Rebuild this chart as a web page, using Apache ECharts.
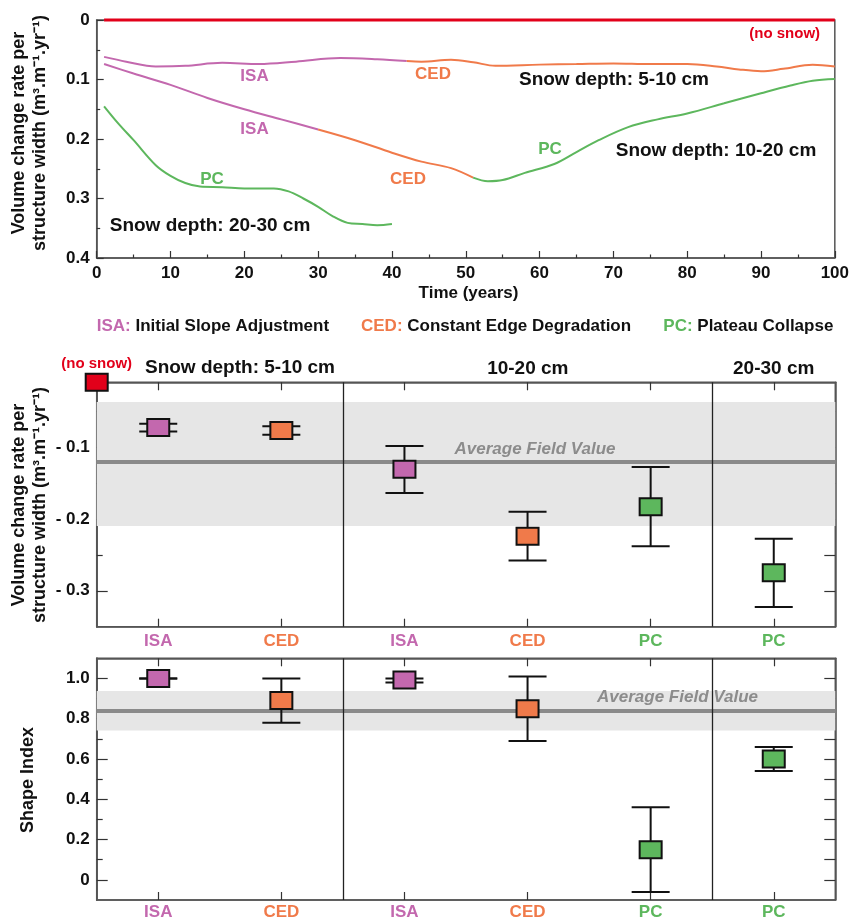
<!DOCTYPE html>
<html><head><meta charset="utf-8">
<script src="https://cdn.jsdelivr.net/npm/echarts@6/dist/echarts.min.js"></script>
<style>html,body{margin:0;padding:0;background:#fff}#c{width:852px;height:921px}</style>
</head><body><div id="c"></div>
<script>
// ===== Top panel: volume change rate per structure width vs time =====
const noSnowT = [1, 100];
const noSnowV = [0, 0];
// Snow depth 5-10 cm
const d510IsaT = [1, 4, 8, 12, 17, 22, 27, 33, 38, 42];
const d510IsaV = [0.062, 0.070, 0.078, 0.077, 0.072, 0.074, 0.070, 0.064, 0.066, 0.069];
const d510CedT = [42, 44, 48, 51, 54, 60, 65, 70, 75, 80, 84, 87, 90, 93, 97, 100];
const d510CedV = [0.069, 0.070, 0.067, 0.071, 0.077, 0.075, 0.074, 0.073, 0.074, 0.074, 0.078, 0.083, 0.086, 0.082, 0.075, 0.078];
// Snow depth 10-20 cm
const d1020IsaT = [1, 5, 10, 15, 20, 25, 30];
const d1020IsaV = [0.074, 0.090, 0.109, 0.131, 0.150, 0.167, 0.184];
const d1020CedT = [30, 35, 40, 44, 48, 51];
const d1020CedV = [0.184, 0.202, 0.223, 0.238, 0.249, 0.265];
const d1020PcT = [51, 53, 55, 58, 62, 65, 68, 72, 76, 80, 85, 90, 94, 97, 100];
const d1020PcV = [0.265, 0.271, 0.269, 0.257, 0.242, 0.222, 0.202, 0.180, 0.167, 0.157, 0.140, 0.123, 0.110, 0.102, 0.099];
// Snow depth 20-30 cm
const d2030PcT = [1, 3, 5, 8, 10, 12, 14, 17, 20, 24, 26, 28, 30, 32, 34, 36, 38, 40];
const d2030PcV = [0.145, 0.175, 0.202, 0.244, 0.262, 0.274, 0.280, 0.281, 0.283, 0.283, 0.288, 0.300, 0.314, 0.330, 0.341, 0.343, 0.345, 0.343];

// ===== Middle & bottom panels =====
const catNames = ['ISA', 'CED', 'ISA', 'CED', 'PC', 'PC'];
const groupBounds = [2, 5];
const volMid  = [-0.073, -0.077, -0.131, -0.224, -0.183, -0.275];
const volLow  = [-0.0785, -0.0828, -0.164, -0.258, -0.238, -0.3226];
const volHigh = [-0.0676, -0.0713, -0.0986, -0.190, -0.128, -0.2275];
const noSnowPos = 0;
const noSnowVol = -0.01;
const volBand = [-0.21, -0.0375];
const volAvg = -0.124;
const shapeMid  = [1.0, 0.89, 0.992, 0.85, 0.15, 0.60];
const shapeLow  = [1.0, 0.78, 0.98, 0.69, -0.06, 0.54];
const shapeHigh = [1.0, 1.0, 1.0, 1.01, 0.36, 0.66];
const shapeBand = [0.742, 0.938];
const shapeAvg = 0.84;

const C = { ISA: '#c368ae', CED: '#f07a4a', PC: '#5db75d', red: '#e2001a' };
const FONT = '"Liberation Sans", Arial, sans-serif';
const FRAME = '#555';

const zip = (a, b) => a.map((x, i) => [x, b[i]]);
const lineS = (t, v, col, extra) => Object.assign({
  type: 'line', xAxisIndex: 0, yAxisIndex: 0, data: zip(t, v), smooth: 0.35,
  showSymbol: false, symbol: 'none', lineStyle: { color: col, width: 2 }, itemStyle: { color: col }, z: 3
}, extra || {});

function errRender(params, api) {
  const i = api.value(0);
  const p = api.coord([i, api.value(1)]);
  const lo = api.coord([i, api.value(2)]);
  const hi = api.coord([i, api.value(3)]);
  const capW = 19, w = 11, h = 8.5;
  const col = C[catNames[i]];
  const st = { stroke: '#111', lineWidth: 2 };
  return { type: 'group', children: [
    { type: 'line', shape: { x1: p[0], y1: lo[1], x2: p[0], y2: hi[1] }, style: st },
    { type: 'line', shape: { x1: p[0] - capW, y1: lo[1], x2: p[0] + capW, y2: lo[1] }, style: st },
    { type: 'line', shape: { x1: p[0] - capW, y1: hi[1], x2: p[0] + capW, y2: hi[1] }, style: st },
    { type: 'rect', shape: { x: p[0] - w, y: p[1] - h, width: 2 * w, height: 2 * h }, style: { fill: col, stroke: '#111', lineWidth: 2 } }
  ]};
}
function squareRender(params, api) {
  const p = api.coord([api.value(0), api.value(1)]);
  return { type: 'rect', shape: { x: p[0] - 11, y: p[1] - 8.5, width: 22, height: 17 }, style: { fill: C.red, stroke: '#111', lineWidth: 2 } };
}

const catRich = {
  ISA: { color: C.ISA, fontWeight: 'bold', fontSize: 17, fontFamily: FONT },
  CED: { color: C.CED, fontWeight: 'bold', fontSize: 17, fontFamily: FONT },
  PC:  { color: C.PC,  fontWeight: 'bold', fontSize: 17, fontFamily: FONT }
};
const labelStyle = { fontWeight: 'bold', fontSize: 17, fontFamily: FONT, color: '#111' };
const axLine = { show: true, onZero: false, lineStyle: { color: FRAME, width: 1.5 } };
const tickLine = { color: '#333', width: 1.2 };

function catAxis(grid, pos, labels, margin) {
  return {
    type: 'category', gridIndex: grid, position: pos, data: catNames, boundaryGap: true,
    axisLine: axLine,
    axisTick: { show: true, inside: true, alignWithLabel: true, length: 8, lineStyle: tickLine },
    axisLabel: labels ? { show: true, margin: margin, interval: 0, formatter: v => '{' + v + '|' + v + '}', rich: catRich } : { show: false },
    splitLine: { show: false }
  };
}
function hiddenX(grid) {
  return { type: 'value', gridIndex: grid, min: 0, max: 6, show: false, position: 'bottom', axisLine: { show: false, onZero: false } };
}
function yAx(grid, pos, min, max, labelVals, tickVals, len, fmt) {
  return {
    type: 'value', gridIndex: grid, position: pos, min: min, max: max,
    axisLine: axLine,
    axisTick: { show: true, inside: true, length: len, customValues: tickVals, lineStyle: tickLine },
    axisLabel: labelVals ? Object.assign({ show: true, margin: 7, customValues: labelVals, formatter: fmt }, labelStyle) : { show: false },
    splitLine: { show: false }
  };
}

const grids = [
  { left: 96.7, top: 20, width: 738.6, height: 238, show: true, borderColor: FRAME, borderWidth: 1.5 },
  { left: 96.7, top: 382.3, width: 738.6, height: 244.4, show: true, borderColor: FRAME, borderWidth: 1.5 },
  { left: 96.7, top: 658.3, width: 738.6, height: 244.4, show: true, borderColor: FRAME, borderWidth: 1.5 }
];

const option = {
  backgroundColor: '#fff',
  animation: false,
  grid: grids,
  xAxis: [
    { type: 'value', gridIndex: 0, position: 'bottom', min: 0, max: 100, interval: 10,
      axisLine: axLine,
      axisTick: { show: true, inside: true, length: 7, lineStyle: tickLine },
      minorTick: { show: true, splitNumber: 2, length: 3.5, lineStyle: tickLine },
      axisLabel: Object.assign({ margin: 7 }, labelStyle),
      splitLine: { show: false } },
    catAxis(1, 'bottom', true, 6),
    catAxis(1, 'top', false),
    hiddenX(1),
    catAxis(2, 'bottom', true, 4),
    catAxis(2, 'top', false),
    hiddenX(2)
  ],
  yAxis: [
    { type: 'value', gridIndex: 0, position: 'left', inverse: true, min: 0, max: 0.4, interval: 0.1,
      axisLine: axLine,
      axisTick: { show: true, inside: true, length: 7, lineStyle: tickLine },
      minorTick: { show: true, splitNumber: 2, length: 3.5, lineStyle: tickLine },
      axisLabel: Object.assign({ margin: 7, formatter: v => v === 0 ? '0' : v.toFixed(1) }, labelStyle),
      splitLine: { show: false } },
    yAx(1, 'left', -0.35, -0.01, [-0.3, -0.2, -0.1], [-0.3, -0.2, -0.1], 11, v => '- ' + (-v).toFixed(1)),
    yAx(1, 'left', -0.35, -0.01, null, [-0.25, -0.15, -0.05], 6),
    yAx(1, 'right', -0.35, -0.01, null, [-0.3, -0.25, -0.2, -0.15, -0.1, -0.05], 11),
    yAx(2, 'left', -0.1, 1.1, [0, 0.2, 0.4, 0.6, 0.8, 1.0], [0, 0.2, 0.4, 0.6, 0.8, 1.0], 11, v => Math.abs(v) < 1e-9 ? '0' : v.toFixed(1)),
    yAx(2, 'left', -0.1, 1.1, null, [0.1, 0.3, 0.5, 0.7, 0.9], 6),
    yAx(2, 'right', -0.1, 1.1, null, [0, 0.1, 0.2, 0.3, 0.4, 0.5, 0.6, 0.7, 0.8, 0.9, 1.0], 11)
  ],
  series: [
    lineS(d510IsaT, d510IsaV, C.ISA),
    lineS(d510CedT, d510CedV, C.CED),
    lineS(d1020IsaT, d1020IsaV, C.ISA),
    lineS(d1020CedT, d1020CedV, C.CED),
    lineS(d1020PcT, d1020PcV, C.PC),
    lineS(d2030PcT, d2030PcV, C.PC),
    lineS(noSnowT, noSnowV, C.red, { smooth: false, clip: false, lineStyle: { color: C.red, width: 3 }, z: 5 }),

    // middle panel: band + average line
    { type: 'scatter', xAxisIndex: 1, yAxisIndex: 1, data: [], z: 1,
      markArea: { silent: true, itemStyle: { color: '#e6e6e6' }, data: [[{ yAxis: volBand[0] }, { yAxis: volBand[1] }]] },
      markLine: { silent: true, symbol: 'none', label: { show: false }, lineStyle: { color: '#8a8a8a', width: 4, type: 'solid' }, data: [{ yAxis: volAvg }], z: 4 } },
    { type: 'scatter', xAxisIndex: 3, yAxisIndex: 1, data: [], z: 2,
      markLine: { silent: true, symbol: 'none', label: { show: false }, lineStyle: { color: '#222', width: 1.3, type: 'solid' }, data: groupBounds.map(b => ({ xAxis: b })) } },
    { type: 'custom', xAxisIndex: 1, yAxisIndex: 1, renderItem: errRender, z: 10,
      encode: { x: 0, y: 1 },
      data: catNames.map((n, i) => [i, volMid[i], volLow[i], volHigh[i]]) },
    { type: 'custom', xAxisIndex: 3, yAxisIndex: 1, renderItem: squareRender, clip: false, z: 10,
      encode: { x: 0, y: 1 }, data: [[noSnowPos, noSnowVol]] },

    // bottom panel
    { type: 'scatter', xAxisIndex: 4, yAxisIndex: 4, data: [], z: 1,
      markArea: { silent: true, itemStyle: { color: '#e6e6e6' }, data: [[{ yAxis: shapeBand[0] }, { yAxis: shapeBand[1] }]] },
      markLine: { silent: true, symbol: 'none', label: { show: false }, lineStyle: { color: '#8a8a8a', width: 4, type: 'solid' }, data: [{ yAxis: shapeAvg }], z: 4 } },
    { type: 'scatter', xAxisIndex: 6, yAxisIndex: 4, data: [], z: 2,
      markLine: { silent: true, symbol: 'none', label: { show: false }, lineStyle: { color: '#222', width: 1.3, type: 'solid' }, data: groupBounds.map(b => ({ xAxis: b })) } },
    { type: 'custom', xAxisIndex: 4, yAxisIndex: 4, renderItem: errRender, z: 10,
      encode: { x: 0, y: 1 },
      data: catNames.map((n, i) => [i, shapeMid[i], shapeLow[i], shapeHigh[i]]) }
  ],
  graphic: []
};

function txt(x, y, text, color, size, extra) {
  return Object.assign({ type: 'text', x: x, y: y, z: 100, silent: true,
    style: Object.assign({ text: text, fill: color, font: 'bold ' + size + 'px ' + FONT, align: 'center', verticalAlign: 'middle' }, (extra && extra.style) || {}) },
    extra && extra.rotation ? { rotation: extra.rotation } : {});
}
const G = option.graphic;
// top panel annotations
G.push(txt(254.5, 76, 'ISA', C.ISA, 17));
G.push(txt(254.5, 129, 'ISA', C.ISA, 17));
G.push(txt(433, 74, 'CED', C.CED, 17));
G.push(txt(408, 179, 'CED', C.CED, 17));
G.push(txt(212, 179, 'PC', C.PC, 17));
G.push(txt(550, 149, 'PC', C.PC, 17));
G.push(txt(614, 79.5, 'Snow depth: 5-10 cm', '#111', 19));
G.push(txt(716, 150.5, 'Snow depth: 10-20 cm', '#111', 19));
G.push(txt(210, 225.7, 'Snow depth: 20-30 cm', '#111', 19));
G.push(txt(784.7, 34, '(no snow)', C.red, 15));
G.push(txt(468.5, 293.5, 'Time (years)', '#111', 17));
// y axis names
G.push(txt(30, 133, 'Volume change rate per\nstructure width (m³.m⁻¹.yr⁻¹)', '#111', 18, { rotation: Math.PI / 2, style: { lineHeight: 21 } }));
G.push(txt(30, 505, 'Volume change rate per\nstructure width (m³.m⁻¹.yr⁻¹)', '#111', 18, { rotation: Math.PI / 2, style: { lineHeight: 21 } }));
G.push(txt(28, 780, 'Shape Index', '#111', 18, { rotation: Math.PI / 2 }));
// legend row
function legendItem(x, key, desc) {
  return { type: 'text', x: x, y: 326, z: 100, silent: true,
    style: { text: '{k|' + key + ':}{d| ' + desc + '}', align: 'left', verticalAlign: 'middle',
      font: 'bold 17px ' + FONT,
      rich: { k: { fill: C[key], font: 'bold 17px ' + FONT, fontWeight: 'bold', fontSize: 17, fontFamily: FONT },
              d: { fill: '#111', font: 'bold 17px ' + FONT, fontWeight: 'bold', fontSize: 17, fontFamily: FONT } } } };
}
G.push(legendItem(96.7, 'ISA', 'Initial Slope Adjustment'));
G.push(legendItem(361, 'CED', 'Constant Edge Degradation'));
G.push(legendItem(663.3, 'PC', 'Plateau Collapse'));
// middle headers
G.push(txt(96.7, 363.7, '(no snow)', C.red, 15));
G.push(txt(240, 368, 'Snow depth: 5-10 cm', '#111', 19));
G.push(txt(527.8, 369, '10-20 cm', '#111', 19));
G.push(txt(773.7, 369, '20-30 cm', '#111', 19));
// average field value labels
G.push({ type: 'text', x: 535, y: 449, z: 100, silent: true, style: { text: 'Average Field Value', fill: '#8c8c8c', font: 'italic bold 17px ' + FONT, align: 'center', verticalAlign: 'middle' } });
G.push({ type: 'text', x: 677.5, y: 697.7, z: 100, silent: true, style: { text: 'Average Field Value', fill: '#8c8c8c', font: 'italic bold 17px ' + FONT, align: 'center', verticalAlign: 'middle' } });

const chart = echarts.init(document.getElementById('c'), null, { renderer: 'canvas' });
chart.setOption(option);
</script>
</body></html>
